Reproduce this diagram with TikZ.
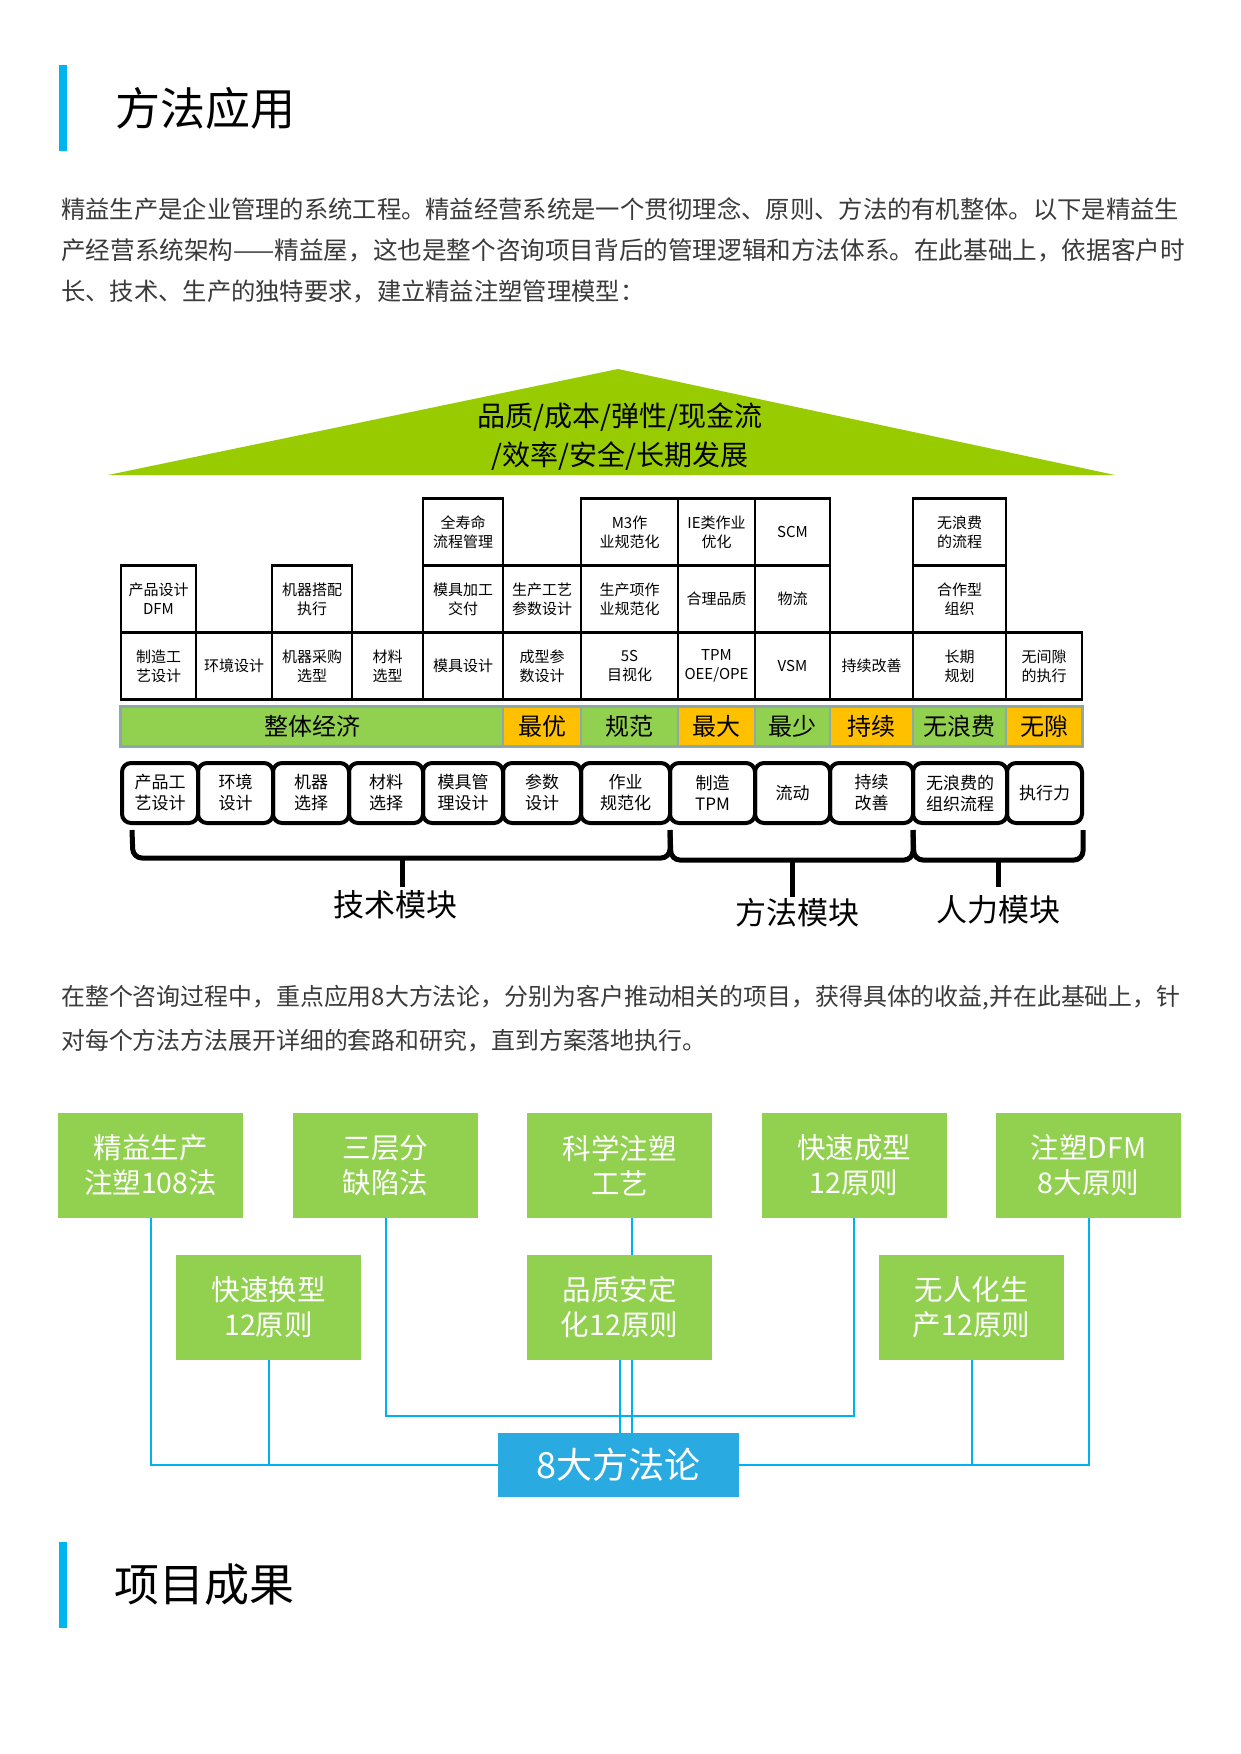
\documentclass[tikz,border=0pt]{standalone}
\usepackage{fontspec}
\setmainfont{Noto Sans CJK SC}
\usetikzlibrary{positioning,calc}
\definecolor{headblue}{HTML}{00B4EF}
\definecolor{bodygray}{HTML}{3A3A3A}
\definecolor{roofgreen}{HTML}{99CC00}
\definecolor{bargreen}{HTML}{92D050}
\definecolor{barorange}{HTML}{FFC000}
\definecolor{bargray}{HTML}{8EA8A8}
\definecolor{methgreen}{HTML}{92D050}
\definecolor{hubblue}{HTML}{29ABE2}
\definecolor{linkblue}{HTML}{00B0F0}
\tikzset{
  headtext/.style={anchor=west, inner sep=0pt, font=\fontsize{45}{50}\selectfont},
  bodytext/.style={anchor=west, inner sep=0pt, text=bodygray, font=\fontsize{24.3}{28}\selectfont},
  cell/.style={draw, line width=2.5pt, inner sep=0pt, align=center, font=\fontsize{15}{19}\selectfont},
  barseg/.style={draw=bargray, line width=1.5pt, inner sep=0pt, minimum height=39pt, font=\fontsize{24}{26}\selectfont},
  modbox/.style={draw, line width=4pt, rounded corners=9pt, inner sep=0pt, minimum height=60pt, align=center, font=\fontsize{17}{21}\selectfont},
  bracepath/.style={line width=5pt, rounded corners=9pt},
  modlabel/.style={inner sep=0pt, font=\fontsize{31}{34}\selectfont},
  methbox/.style={fill=methgreen, text=white, inner sep=0pt, minimum width=185pt, minimum height=105pt, align=center, font=\fontsize{28.5}{35}\selectfont},
  link/.style={draw=linkblue, line width=2pt}
}
\begin{document}
\begin{tikzpicture}[x=1pt, y=-1pt]
  \useasboundingbox[fill=white] (0,0) rectangle (1240,1754);

  % heading and first paragraph
  \fill[headblue] (59,65) rectangle (67,151);
  \node[headtext] (head1) at (115,108) {方法应用};
  \node[bodytext] (p1a) at (61,209) {精益生产是企业管理的系统工程。精益经营系统是一个贯彻理念、原则、方法的有机整体。以下是精益生};
  \node[bodytext, font=\fontsize{24.6}{28}\selectfont] (p1b) at (61,250) {产经营系统架构——精益屋，这也是整个咨询项目背后的管理逻辑和方法体系。在此基础上，依据客户时};
  \node[bodytext] (p1c) at (61,292) {长、技术、生产的独特要求，建立精益注塑管理模型：};

  % roof
  \fill[roofgreen] (108,475) -- (618,369) -- (1115,475) -- cycle;
  \node[inner sep=0pt, font=\fontsize{28}{30}\selectfont] (roof1) at (620,417) {品质/成本/弹性/现金流};
  \node[inner sep=0pt, font=\fontsize{28}{30}\selectfont] (roof2) at (620,456) {/效率/安全/长期发展};

  % pillars of the house
  \foreach \xa/\xb/\yc/\txt/\nm in {
      121/196/666/{制造工\\艺设计}/c31, 196/272/666/{环境设计}/c32,
      272/352/666/{机器采购\\选型}/c33, 352/423/666/{材料\\选型}/c34,
      423/503/666/{模具设计}/c35, 503/581/666/{成型参\\数设计}/c36,
      581/678/666/{5S\\目视化}/c37, 678/755/666/{TPM\\OEE/OPE}/c38,
      755/830/666/{VSM}/c39, 830/913/666/{持续改善}/c310,
      913/1006/666/{长期\\规划}/c311, 1006/1082/666/{无间隙\\的执行}/c312,
      121/196/599/{产品设计\\DFM}/c21, 272/352/599/{机器搭配\\执行}/c23,
      423/503/599/{模具加工\\交付}/c25, 503/581/599/{生产工艺\\参数设计}/c26,
      581/678/599/{生产项作\\业规范化}/c27, 678/755/599/{合理品质}/c28,
      755/830/599/{物流}/c29, 913/1006/599/{合作型\\组织}/c211,
      423/503/532/{全寿命\\流程管理}/c15, 581/678/532/{M3作\\业规范化}/c17,
      678/755/532/{IE类作业\\优化}/c18, 755/830/532/{SCM}/c19,
      913/1006/532/{无浪费\\的流程}/c111}
  {
    \pgfmathsetmacro\w{\xb-\xa}
    \node[cell, minimum width=\w pt, minimum height=67pt] (\nm) at ({(\xa+\xb)/2},\yc) {\txt};
  }

  % coloured base bar
  \foreach \xa/\xb/\col/\txt/\nm in {
      121/503/bargreen/整体经济/s1, 503/581/barorange/最优/s2,
      581/678/bargreen/规范/s3, 678/755/barorange/最大/s4,
      755/830/bargreen/最少/s5, 830/913/barorange/持续/s6,
      913/1006/bargreen/无浪费/s7, 1006/1082/barorange/无隙/s8}
  {
    \pgfmathsetmacro\w{\xb-\xa}
    \node[barseg, fill=\col, minimum width=\w pt] (\nm) at ({(\xa+\xb)/2},726.5) {\txt};
  }
  \draw[bargray, line width=3pt] (s1.north west) rectangle (s8.south east);

  % foundation modules
  \foreach \xa/\xb/\txt/\nm in {
      122/198/{产品工\\艺设计}/b1, 198/273/{环境\\设计}/b2,
      273/349/{机器\\选择}/b3, 349/423/{材料\\选择}/b4,
      423/503/{模具管\\理设计}/b5, 503/581/{参数\\设计}/b6,
      581/670/{作业\\规范化}/b7, 670/755/{制造\\TPM}/b8,
      755/830/{流动}/b9, 830/913/{持续\\改善}/b10,
      913/1007/{无浪费的\\组织流程}/b11, 1007/1082/{执行力}/b12}
  {
    \pgfmathsetmacro\w{\xb-\xa}
    \node[modbox, minimum width=\w pt] (\nm) at ({(\xa+\xb)/2},793) {\txt};
  }

  % braces
  \draw[bracepath] (132,830) -- (133,858) -- (670,858) -- (670,830);
  \draw[line width=5pt] (402,856) -- (402,887);
  \draw[bracepath] (670,830) -- (671,860) -- (913,860) -- (913,830);
  \draw[line width=5pt] (792,858) -- (792,897);
  \draw[bracepath] (913,830) -- (914,860) -- (1083,860) -- (1083,830);
  \draw[line width=5pt] (998,858) -- (998,887);
  \node[modlabel] (tech) at (395,905) {技术模块};
  \node[modlabel] (meth) at (797,913) {方法模块};
  \node[modlabel] (human) at (998,910) {人力模块};

  % second paragraph
  \node[bodytext, font=\fontsize{23.9}{28}\selectfont] (p2a) at (61,998) {在整个咨询过程中，重点应用8大方法论，分别为客户推动相关的项目，获得具体的收益,并在此基础上，针};
  \node[bodytext, font=\fontsize{23.9}{28}\selectfont] (p2b) at (61,1041) {对每个方法方法展开详细的套路和研究，直到方案落地执行。};

  % eight methods
  \node[methbox] (m1) at (150.5,1165.5) {精益生产\\注塑108法};
  \node[methbox] (m2) at (385.5,1165.5) {三层分\\缺陷法};
  \node[methbox] (m3) at (619.5,1165.5) {科学注塑\\工艺};
  \node[methbox] (m4) at (854,1165.5) {快速成型\\12原则};
  \node[methbox] (m5) at (1088.5,1165.5) {注塑DFM\\8大原则};
  \node[methbox] (m6) at (268.5,1307.5) {快速换型\\12原则};
  \node[methbox] (m7) at (619.5,1307.5) {品质安定\\化12原则};
  \node[methbox] (m8) at (971.5,1307.5) {无人化生\\产12原则};
  \coordinate (bus) at (0,1416);

  \draw[link] (m1.south) |- (618,1465);
  \draw[link] (m6.south) -- (m6.south |- 0,1465);
  \draw[link] (m5.south) |- (618,1465);
  \draw[link] (m8.south) -- (m8.south |- 0,1465);
  \draw[link] (m2.south) |- (bus -| m4.south) -- (m4.south);
  \draw[link] ([xshift=12.5pt]m3.south) -- ([xshift=12.5pt]m7.north);
  \draw[link] ([xshift=12.5pt]m7.south) -- ++(0,80);
  \draw[link] (m7.south) -- ++(0,80);

  \node[fill=hubblue, text=white, inner sep=0pt, minimum width=241pt, minimum height=64pt,
        font=\fontsize{36}{40}\selectfont] (hub) at (618.5,1465) {8大方法论};

  % closing heading
  \fill[headblue] (59,1542) rectangle (67,1628);
  \node[headtext] (head2) at (114,1585) {项目成果};
\end{tikzpicture}
\end{document}
